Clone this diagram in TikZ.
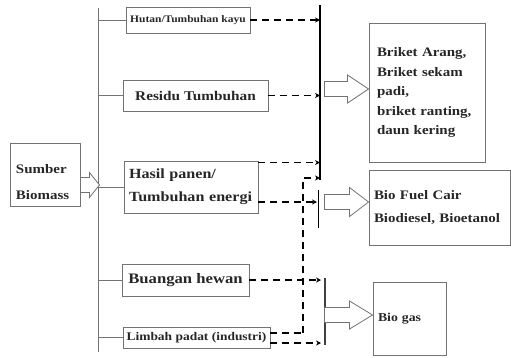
\documentclass[tikz,border=0pt]{standalone}
\usepackage{fontspec}
\setmainfont{Liberation Serif}[FakeStretch=1.15]
\usetikzlibrary{arrows.meta,calc}
\begin{document}
\begin{tikzpicture}[x=1pt,y=-1pt,
  box/.style={draw=black!55, line width=0.9pt, inner sep=0pt, text=black!85},
  lbl/.style={inner sep=0pt, text=black!85},
  thinln/.style={draw=black!55, line width=0.8pt},
  dsh/.style={draw=black, line width=1.4pt, dash pattern=on 7pt off 5pt},
  tip/.style={-{Stealth[length=5pt,width=5pt]}},
  barr/.style={draw=black!55, line width=0.8pt, fill=white, line join=miter},
  pics/blockarrow/.style args={#1/#2/#3/#4}{code={
    \draw[barr] (0,-#3) -- (#2,-#3) -- (#2,-#4) -- (#1,0) -- (#2,#4) -- (#2,#3) -- (0,#3) -- cycle;}}
]
\useasboundingbox (0,0) rectangle (511,357);

% source box
\node[box, minimum width=70pt, minimum height=63pt] (src) at (45,174.5) {};
\node[lbl, align=left, text width=58pt, font=\fontsize{13}{26}\selectfont\bfseries] (srct) at (45,182) {Sumber\\Biomass};

% main trunk
\coordinate (vt) at (98,8);
\coordinate (vb) at (98,352);
\draw[thinln] (vt) -- (vb);

% source boxes
\node[box, minimum width=124pt, minimum height=26pt, font=\fontsize{10}{12}\selectfont\bfseries] (hut) at (188,20) {Hutan/Tumbuhan kayu};
\node[box, minimum width=145pt, minimum height=31pt, font=\fontsize{13.3}{15}\selectfont\bfseries] (res) at (195.5,95.5) {Residu Tumbuhan};
\node[box, minimum width=134pt, minimum height=52pt, align=left, text width=124pt, font=\fontsize{14}{23}\selectfont\bfseries] (has) at (191,187) {Hasil panen/\\Tumbuhan energi};
\node[box, minimum width=127pt, minimum height=32pt, font=\fontsize{14.5}{16}\selectfont\bfseries] (bua) at (185.5,280) {Buangan hewan};
\node[box, minimum width=147pt, minimum height=21pt, font=\fontsize{11.7}{13}\selectfont\bfseries] (lim) at (196.5,337.5) {Limbah padat (industri)};

% branches
\foreach \n in {hut,res,has,bua,lim}
  \draw[thinln] (\n.west -| vt) -- (\n.west);

% block arrow from source
\pic at ($(src.east)+(0,10.5)$) {blockarrow=19/9/7.5/12.5};

% product boxes
\node[box, minimum width=116pt, minimum height=139pt, align=left, text width=100pt, font=\fontsize{13}{19.5}\selectfont\bfseries] (bri) at (427,92.5) {Briket Arang,\\Briket sekam\\padi,\\briket ranting,\\daun kering};
\node[box, minimum width=141pt, minimum height=75pt, align=left, text width=131pt, font=\fontsize{13}{23}\selectfont\bfseries] (bio) at (439.5,207.5) {Bio Fuel Cair\\Biodiesel, Bioetanol};
\node[box, minimum width=73pt, minimum height=73pt, align=left, text width=63pt, font=\fontsize{12}{14}\selectfont\bfseries] (gas) at (409.5,318.5) {Bio gas};

% collectors
\coordinate (kt) at (320,5);
\coordinate (kb) at (320,180);
\draw[line width=2.2pt] (kt) -- (kb);
\coordinate (bft) at (318,190);
\coordinate (bfb) at (318,228);
\draw[line width=1pt] (bft) -- (bfb);
\coordinate (bgt) at (325,278);
\coordinate (bgb) at (325,345);
\draw[line width=1.3pt, draw=black!75] (bgt) -- (bgb);
\coordinate (dvt) at (303,178);
\coordinate (dvb) at (303,333);

% dashed connectors
\draw[dsh,tip] (hut.east) -- (hut.east -| kt);
\draw[dsh,tip] (res.east) -- (res.east -| kt);
\draw[dsh,tip] ($(has.north east)+(0,2)$) -- ($(has.north east -| kt)+(0,2)$);
\draw[dsh,tip,shorten >=1pt] ($(has.east)+(0,15)$) -- ($(has.east -| bft)+(0,15)$);
\draw[dsh,tip] (dvb) -- (dvt) -- (dvt -| kt);
\draw[dsh] ($(lim.east)+(0,-4.5)$) -- ($(lim.east -| dvb)+(0,-4.5)$);
\draw[dsh,tip,shorten >=4pt] ($(lim.east)+(0,5.5)$) -- ($(lim.east -| bgt)+(0,5.5)$);
\draw[dsh,tip,shorten >=4pt] (bua.east) -- (bua.east -| bgt);

% block arrows to products
\pic at ($(bri.west)+(-44,-3.5)$) {blockarrow=44/23/7.5/14};
\pic at ($(bio.west)+(-44,-5.5)$) {blockarrow=44/25/7.5/14.5};
\pic at ($(gas.west)+(-48,-3.5)$) {blockarrow=48/25/7.5/14};
\end{tikzpicture}
\end{document}
